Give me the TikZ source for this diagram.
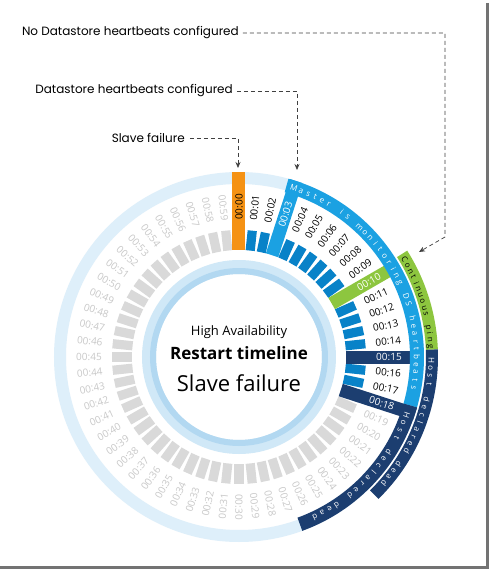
\documentclass[tikz,border=0pt]{standalone}
\usepackage{fontspec}
\setmainfont{Open Sans}
\newfontfamily\notefont{Poppins}
\usetikzlibrary{arrows.meta}

\definecolor{haorange}{RGB}{245,146,20}
\definecolor{hablue}{RGB}{8,130,200}
\definecolor{hasky}{RGB}{27,161,226}
\definecolor{hagreen}{RGB}{141,198,63}
\definecolor{hanavy}{RGB}{28,62,112}
\definecolor{hagray}{RGB}{217,217,217}
\definecolor{halabel}{RGB}{200,200,200}
\definecolor{haring}{RGB}{222,239,250}
\definecolor{hainner}{RGB}{208,232,247}
\definecolor{hainnerdk}{RGB}{178,216,241}

% annular sector: colour, start angle, end angle, inner radius, outer radius
\newcommand{\hasector}[5]{\fill[#1] (#2:#4) arc[start angle=#2, end angle=#3, radius=#4] -- (#3:#5) arc[start angle=#3, end angle=#2, radius=#5] -- cycle;}

\tikzset{
  tick/.style={font=\fontsize{10}{10}\selectfont, inner sep=0pt},
  note/.style={font=\notefont\fontsize{12}{12}\selectfont, inner sep=0pt, anchor=east},
  dashline/.style={draw=black!75, dash pattern=on 4pt off 3pt, line width=0.7pt},
  arcletter/.style={font=\fontsize{8}{8}\selectfont, inner sep=0pt, anchor=base},
}

\begin{document}
\begin{tikzpicture}[x=1pt, y=1pt, >={Stealth[length=6pt,width=5pt]}]
  \useasboundingbox (-239,-214) rectangle (254,357);
  \fill[white] (-239,-214) rectangle (254,357);
  % --- frame shadow ---
  \draw[black!55, line width=2.5pt] (248.5,354) -- (248.5,-210.5) -- (-239,-210.5);
  % --- rings ---
  \fill[haring, even odd rule] (0,0) circle[radius=185] circle[radius=173];
  \fill[hainner, even odd rule] (0,0) circle[radius=97] circle[radius=83];
  \fill[hainnerdk, even odd rule] (0,0) circle[radius=89] circle[radius=83];
  % --- grey seconds ---
  \foreach \s in {19,...,59} {
    \pgfmathsetmacro\ang{90-6*\s}
    \pgfmathsetmacro\rot{\s>30 ? 270-6*\s : 90-6*\s}
    \fill[hagray, rotate=\ang] (107,-4.6) rectangle (127,4.6);
    \node[tick, text=halabel, rotate=\rot] (t\s) at (\ang:150) {00:\s};
  }
  % --- blue seconds ---
  \foreach \s in {1,2,4,5,6,7,8,9,11,12,13,14,16,17} {
    \pgfmathsetmacro\ang{90-6*\s}
    \fill[hablue, rotate=\ang] (107,-4.6) rectangle (127,4.6);
    \node[tick, rotate=\ang] (t\s) at (\ang:150) {00:\ifnum\s<10 0\fi\s};
  }
  % --- long markers ---
  \foreach \s/\col/\len/\txt in {0/haorange/185/black, 3/hasky/185/white, 10/hagreen/172/white, 15/hanavy/172/white, 18/hanavy/185/white} {
    \pgfmathsetmacro\ang{90-6*\s}
    \fill[\col, rotate=\ang] (107,-6.5) rectangle (\len,6.5);
    \node[tick, text=\txt, rotate=\ang] (t\s) at (\ang:150) {00:\ifnum\s<10 0\fi\s};
  }
  % --- bands ---
  \hasector{hasky}{74.5}{-15.8}{171}{185}
  \hasector{hanavy}{-15.8}{-70}{171}{185}
  \hasector{hagreen}{32.3}{2.2}{187}{199}
  \hasector{hanavy}{2.2}{-45.5}{187}{199}
  % --- band texts ---
  \foreach \ch [count=\i from 0] in {M,a,s,t,e,r,{},i,s,{},m,o,n,i,t,o,r,i,n,g,{},D,S,{},h,e,a,r,t,b,e,a,t,s}
    \node[arcletter, text=white, rotate={72-2.48*\i-90}] (ma\i) at ({72-2.48*\i}:175) {\ch};
  \foreach \ch [count=\i from 0] in {C,o,n,t,i,n,u,o,u,s,{},p,i,n,g}
    \node[arcletter, rotate={30.5-1.96*\i-90}] (cp\i) at ({30.5-1.96*\i}:189.5) {\ch};
  \foreach \ch [count=\i from 0] in {H,o,s,t,{},d,e,c,l,a,r,e,d,{},d,e,a,d}
    \node[arcletter, text=white, rotate={-1-2.35*\i-90}] (ho\i) at ({-1-2.35*\i}:189.5) {\ch};
  \foreach \ch [count=\i from 0] in {H,o,s,t,{},d,e,c,l,a,r,e,d,{},d,e,a,d}
    \node[arcletter, text=white, rotate={-19-2.68*\i-90}] (hi\i) at ({-19-2.68*\i}:174.5) {\ch};
  % --- centre title ---
  \node[font=\fontsize{13}{13}\selectfont] (ha) at (0,25) {High Availability};
  \node[font=\bfseries\fontsize{17}{17}\selectfont] (rt) at (0,4) {Restart timeline};
  \node[font=\fontsize{22}{22}\selectfont] (sf) at (0,-26) {Slave failure};
  % --- annotations ---
  \node[note] (nods) at (0,324) {No Datastore heartbeats configured};
  \coordinate (nods-bend) at (206,120);
  \coordinate (nods-tip) at (180,105);
  \draw[dashline, ->] ([xshift=4pt]nods.east) -| (nods-bend) -- (nods-tip);
  \node[note] (dsh) at (-6,266) {Datastore heartbeats configured};
  \coordinate (dsh-tip) at (58,187);
  \draw[dashline, ->] ([xshift=4pt]dsh.east) -| (dsh-tip);
  \node[note] (slf) at (-54,219) {Slave failure};
  \coordinate (slf-tip) at (-1,189);
  \draw[dashline, ->] ([xshift=5pt]slf.east) -| (slf-tip);
\end{tikzpicture}
\end{document}
